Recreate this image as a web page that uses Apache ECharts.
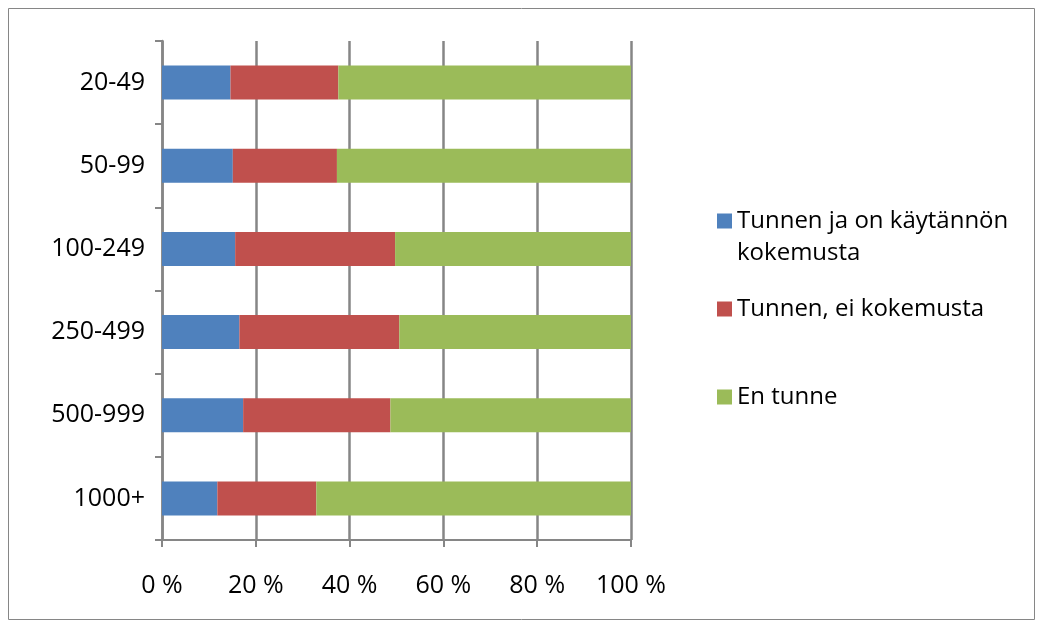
<!DOCTYPE html>
<html>
<head>
<meta charset="utf-8">
<script src="https://cdn.jsdelivr.net/npm/echarts@6/dist/echarts.min.js"></script>
<style>
  html, body { margin: 0; padding: 0; background: #fff; }
  #main { width: 1043px; height: 628px; }
</style>
</head>
<body>
<div id="main"></div>
<script>
  // kokoluokat (ylhäältä alas)
  var categories = ['20-49', '50-99', '100-249', '250-499', '500-999', '1000+']
  var seriesNames = ['Tunnen ja on käytännön kokemusta', 'Tunnen, ei kokemusta', 'En tunne']
  // osuudet prosentteina
  var tunnenKokemus = [14.6, 15.1, 15.6, 16.5, 17.3, 11.8]
  var tunnenEi = [23.0, 22.2, 34.1, 34.1, 31.4, 21.1]
  var enTunne = [62.4, 62.7, 50.3, 49.4, 51.3, 67.1]
  var xTicks = [0, 20, 40, 60, 80, 100]

  var colors = ['#4F81BD', '#C0504D', '#9BBB59']
  var font = '"Open Sans", sans-serif'
  var axisGray = '#868686'

  var chart = echarts.init(document.getElementById('main'))

  function legendAt(name, top) {
    return {
      data: [name],
      left: 712,
      top: top,
      orient: 'vertical',
      itemWidth: 15,
      itemHeight: 15,
      icon: 'rect',
      selectedMode: false,
      // ensimmäisen selitteen toinen rivi piirretään erikseen
      formatter: function (n) {
        return n === seriesNames[0] ? 'Tunnen ja on käytännön' : n
      },
      textStyle: {
        fontFamily: font,
        fontSize: 24,
        color: '#000',
        lineHeight: 36
      }
    }
  }

  chart.setOption({
    animation: false,
    color: colors,
    graphic: [{
      type: 'rect',
      shape: { x: 8.5, y: 8.5, width: 1026, height: 611 },
      style: { fill: 'none', stroke: '#868686', lineWidth: 1 }
    }, {
      type: 'text',
      left: 737,
      top: 241,
      style: { text: 'kokemusta', font: '24px "Open Sans", sans-serif', fill: '#000' }
    }],
    legend: [
      legendAt(seriesNames[0], 198),
      legendAt(seriesNames[1], 286),
      legendAt(seriesNames[2], 374)
    ],
    grid: { left: 162, right: 412, top: 41, bottom: 88 },
    xAxis: {
      type: 'value',
      min: 0,
      max: 100,
      interval: 20,
      data: xTicks,
      axisLine: { show: true, lineStyle: { color: axisGray, width: 2 } },
      axisTick: { show: true, length: 7, lineStyle: { color: axisGray, width: 2 } },
      splitLine: { show: true, lineStyle: { color: axisGray, width: 2.5 } },
      axisLabel: {
        formatter: '{value} %',
        fontFamily: font,
        fontSize: 25,
        color: '#000',
        margin: 33
      }
    },
    yAxis: {
      type: 'category',
      inverse: true,
      data: categories,
      axisLine: { show: true, lineStyle: { color: axisGray, width: 2.5 } },
      axisTick: { show: true, length: 7, alignWithLabel: false, lineStyle: { color: axisGray, width: 2 } },
      axisLabel: {
        fontFamily: font,
        fontSize: 25,
        color: '#000',
        margin: 17
      }
    },
    series: [
      { name: seriesNames[0], type: 'bar', stack: 'a', barWidth: 34, data: tunnenKokemus },
      { name: seriesNames[1], type: 'bar', stack: 'a', barWidth: 34, data: tunnenEi },
      { name: seriesNames[2], type: 'bar', stack: 'a', barWidth: 34, data: enTunne }
    ]
  })
</script>
</body>
</html>
